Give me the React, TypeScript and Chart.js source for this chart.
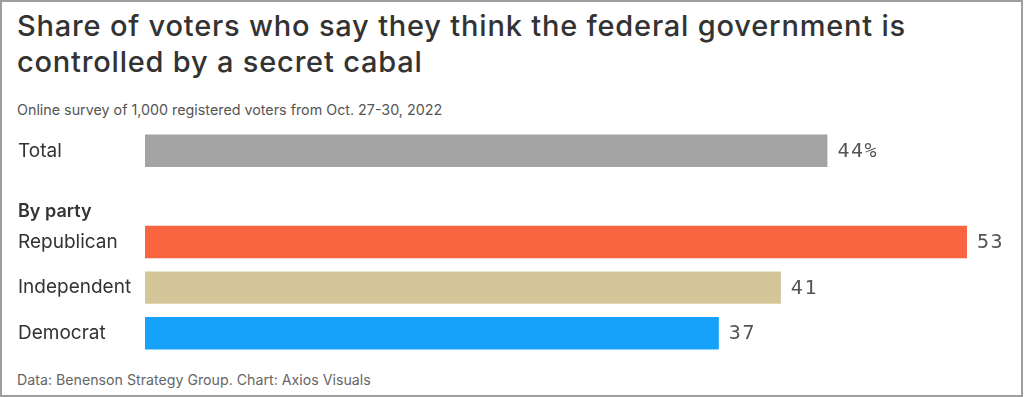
import React, { useEffect, useRef } from "react";
import { Chart, registerables } from "chart.js";

Chart.register(...registerables);

const titleText = "Share of voters who say they think the federal government is\ncontrolled by a secret cabal";
const subtitleText = "Online survey of 1,000 registered voters from Oct. 27-30, 2022";
const footerText = "Data: Benenson Strategy Group. Chart: Axios Visuals";

const categories = ["Total", "By party", "Republican", "Independent", "Democrat"];
const values: (number | null)[] = [44, null, 53, 41, 37];
const valueLabels = ["44%", "", "53", "41", "37"];
const barColors = ["#a3a3a3", "rgba(0,0,0,0)", "#f86540", "#d3c79a", "#16a1fb"];
const headerRows = ["By party"];

const FONT = "Inter, 'Noto Sans', sans-serif";
const MONO = "'DejaVu Sans Mono', monospace";

const valueLabelPlugin = {
  id: "valueLabels",
  afterDatasetsDraw(chart: any) {
    const meta = chart.getDatasetMeta(0);
    const ctx = chart.ctx;
    ctx.save();
    ctx.font = `20px ${MONO}`;
    try {
      (ctx as any).letterSpacing = "1.5px";
    } catch (e) {}
    ctx.fillStyle = "#555555";
    ctx.textBaseline = "middle";
    ctx.textAlign = "left";
    meta.data.forEach((bar: any, i: number) => {
      if (values[i] == null) return;
      ctx.fillText(valueLabels[i], bar.x + 10, bar.y + 1);
    });
    ctx.restore();
  },
};

export default function App() {
  const canvasRef = useRef<HTMLCanvasElement | null>(null);

  useEffect(() => {
    document.body.style.margin = "0";
    const canvas = canvasRef.current;
    if (!canvas) return;
    const chart = new Chart(canvas, {
      type: "bar",
      data: {
        labels: categories,
        datasets: [
          {
            data: values as any,
            backgroundColor: barColors,
            borderWidth: 0,
            barPercentage: 0.71,
            categoryPercentage: 1,
          },
        ],
      },
      options: {
        indexAxis: "y",
        responsive: false,
        animation: false,
        layout: { padding: { left: 18, right: 22, top: 0, bottom: 0 } },
        plugins: {
          legend: { display: false },
          tooltip: { enabled: false },
        },
        scales: {
          x: {
            display: false,
            min: 0,
            max: 55,
          },
          y: {
            grid: { display: false },
            border: { display: false },
            afterFit: (s: any) => {
              s.width = 127;
            },
            ticks: {
              autoSkip: false,
              crossAlign: "far",
              padding: 0,
              color: "#333333",
              callback: (_v: any, i: number) =>
                headerRows.includes(categories[i]) ? ["", categories[i]] : categories[i],
              font: (c: any) =>
                headerRows.includes(categories[c.index])
                  ? { family: FONT, size: 18, weight: "600", lineHeight: "30px" }
                  : { family: FONT, size: 19, weight: "400", lineHeight: "22px" },
            },
          },
        },
      } as any,
      plugins: [valueLabelPlugin],
    });
    return () => chart.destroy();
  }, []);

  return (
    <div
      style={{
        position: "relative",
        width: 1023,
        height: 397,
        boxSizing: "border-box",
        border: "2px solid #9e9e9e",
        background: "#ffffff",
        fontFamily: FONT,
        overflow: "hidden",
      }}
    >
      <div
        style={{
          position: "absolute",
          left: 15,
          top: 6,
          fontSize: 29,
          lineHeight: "36px",
          fontWeight: 500,
          letterSpacing: "0.8px",
          color: "#333333",
          whiteSpace: "pre-line",
        }}
      >
        {titleText}
      </div>
      <div
        style={{
          position: "absolute",
          left: 15,
          top: 99,
          fontSize: 14.3,
          lineHeight: "17px",
          color: "#555555",
        }}
      >
        {subtitleText}
      </div>
      <canvas
        ref={canvasRef}
        width={1020}
        height={250}
        style={{ position: "absolute", left: -2, top: 115, width: 1020, height: 250 }}
      />
      <div
        style={{
          position: "absolute",
          left: 15,
          top: 369,
          fontSize: 14.2,
          lineHeight: "17px",
          color: "#666666",
        }}
      >
        {footerText}
      </div>
    </div>
  );
}
